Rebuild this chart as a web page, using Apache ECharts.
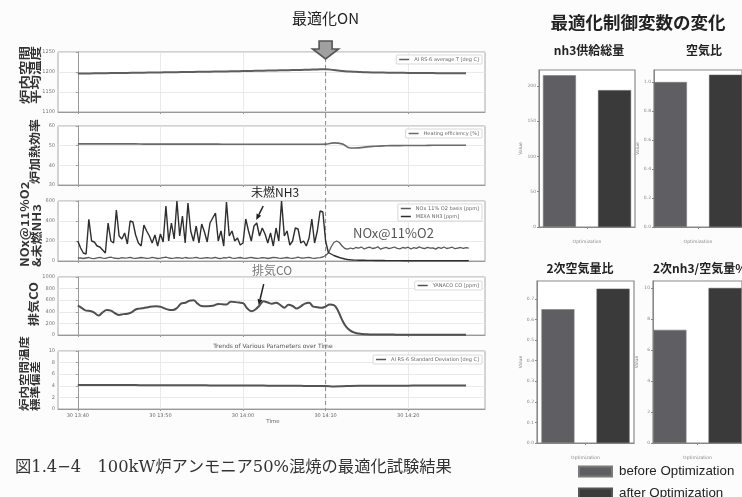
<!DOCTYPE html>
<html><head><meta charset="utf-8">
<script src="https://cdn.jsdelivr.net/npm/echarts@6/dist/echarts.min.js"></script>
<style>html,body{margin:0;padding:0;background:#fcfcfc}#c{width:742px;height:497px}</style>
</head><body><div id="c"></div><script>
// ---- time axis (minutes after 13:40) ----
const tickMinutes = [0, 10, 20, 30, 40];
const tickLabels = ['30 13:40', '30 13:50', '30 14:00', '30 14:10', '30 14:20'];
const optimizationOnMin = 30;

// 1-minute samples, 13:40 .. 14:27
const avgTemp = [1196,1196.3,1196.6,1196.9,1197.2,1197.5,1197.8,1198.1,1198.4,1198.7,
  1199,1199.3,1199.6,1199.9,1200.2,1200.5,1200.8,1201.1,1201.5,1201.9,
  1202.3,1202.7,1203.1,1203.5,1203.9,1204.3,1204.8,1205.3,1205.8,1206.3,
  1206.8,1205,1202.6,1201.2,1200.2,1199.4,1198.9,1198.5,1198.2,1198,
  1197.8,1197.6,1197.4,1197.2,1197,1196.9,1196.8,1196.7];
const heatEff = [50.9,50.9,50.9,50.9,50.9,50.9,50.9,50.9,50.8,50.8,
  50.8,50.8,50.8,50.8,50.8,50.8,50.8,50.8,50.7,50.7,
  50.7,50.7,50.7,50.7,50.7,50.7,50.7,50.7,50.7,50.7,
  50.8,51.4,50.9,48.8,48.9,49.4,49.7,49.9,50,50,
  50.1,50.1,50.1,50.2,50.2,50.2,50.2,50.2];
const tempStd = [4.15,4.15,4.14,4.14,4.13,4.13,4.12,4.12,4.11,4.11,
  4.1,4.1,4.09,4.09,4.08,4.08,4.07,4.07,4.06,4.06,
  4.05,4.05,4.04,4.03,4.02,4.01,4,3.99,3.98,3.98,
  3.98,3.9,3.92,3.97,4,4.01,4.02,4.02,4.03,4.03,
  4.03,4.04,4.04,4.04,4.05,4.05,4.05,4.05];

// 20-second samples, 13:40:00 .. 14:27:20
const nh3 = [200,130,80,70,417,200,190,150,140,110,
  80,380,200,180,510,250,220,280,170,400,
  390,260,180,150,360,300,250,180,260,150,
  270,190,550,200,380,220,600,250,450,180,
  580,300,200,350,180,370,290,190,380,430,
  480,200,300,150,590,250,300,200,230,160,
  180,420,300,200,350,380,250,330,270,180,
  280,150,330,200,600,250,300,160,200,330,
  320,180,200,150,230,420,180,300,500,490,
  200,
  85,70,55,45,35,27,20,15,12,10,
  9,8,7,7,6,6,6,5,5,5,
  5,4,4,4,4,4,4,3,3,3,
  3,3,3,3,3,3,3,3,3,3,
  3,3,3,3,3,3,3,3,3,3,
  3,3];
const nox = [28,32,25,30,35,27,24,31,36,29,
  26,33,38,30,27,25,34,29,31,37,
  28,26,30,35,32,27,29,36,31,25,
  28,33,38,30,26,29,34,31,27,35,
  30,28,32,37,29,26,31,34,28,30,
  36,27,25,33,30,38,29,27,31,35,
  28,26,32,36,30,27,29,34,31,25,
  30,37,33,28,26,31,35,29,27,32,
  38,30,28,33,36,29,27,31,34,40,
  55,
  80,140,185,200,185,150,125,118,130,122,
  135,128,140,120,132,138,125,130,142,118,
  128,136,124,131,140,127,122,135,129,138,
  120,133,126,141,130,124,137,128,132,119,
  136,127,140,125,131,138,123,129,135,126,
  133,128];

// 30-second samples, 13:40 .. 14:27
const co = [505,465,420,415,385,335,390,430,420,375,
  345,360,365,390,440,455,465,480,490,495,
  488,460,435,430,465,540,555,590,600,540,
  500,497,500,510,535,530,525,575,568,560,
  550,460,410,440,510,580,560,540,555,520,
  470,520,500,455,495,540,555,490,480,470,
  490,525,515,420,260,140,75,40,25,17,
  12,10,9,8,8,7,7,6,6,6,
  6,5,5,5,5,5,5,5,5,5,
  5,5,5,5,5];

// ---- control variables, before / after ----
const barTitles = ['nh3供給総量', '空気比', '2次空気量比', '2次nh3/空気量%'];
const beforeVals = [215, 1.0, 0.65, 7.3];
const afterVals = [194, 1.05, 0.75, 10.0];
const barAxisMax = [222.5, 1.083, 0.7875, 10.45];
const barAxisStep = [50, 0.2, 0.1, 2];

const seriesNames = ['AI RS-6 average T [deg C]', 'Heating efficiency [%]',
  'NOx 11% O2 basis [ppm]', 'MEXA NH3 [ppm]', 'YANACO CO [ppm]',
  'AI RS-6 Standard Deviation [deg C]'];

const JP = "'Noto Sans CJK JP', sans-serif";
const LAT = "'DejaVu Sans', sans-serif";

const leftLayout = [
  {top: 52, height: 60}, {top: 126, height: 59}, {top: 201, height: 60},
  {top: 277, height: 58}, {top: 351, height: 58}];
const yRanges = [
  {min: 1100, max: 1250, interval: 50}, {min: 30, max: 60, interval: 10},
  {min: 0, max: 600, interval: 200}, {min: 0, max: 1000, interval: 200},
  {min: 0, max: 10, interval: 2}];
const barLayout = [
  {left: 539, top: 70, width: 96, height: 157}, {left: 654, top: 70, width: 96, height: 157},
  {left: 537, top: 281, width: 97, height: 162}, {left: 653, top: 281, width: 97, height: 162}];

const grids = [], xAxes = [], yAxes = [], series = [], legends = [];

leftLayout.forEach((g, i) => {
  grids.push({left: 58, width: 427, top: g.top, height: g.height, show: true,
    borderColor: '#a8a8a8', borderWidth: 1, backgroundColor: '#fff'});
  xAxes.push({type: 'value', gridIndex: i, min: -2.4, max: 49.3,
    axisLine: {show: true, lineStyle: {color: '#999'}},
    axisTick: {show: true, length: 2, customValues: tickMinutes, lineStyle: {color: '#999'}},
    axisLabel: {show: i === 4, customValues: tickMinutes, fontSize: 5, color: '#666', margin: 4,
      fontFamily: LAT, formatter: v => tickLabels[tickMinutes.indexOf(v)] || ''},
    splitLine: {show: true, lineStyle: {color: '#e4e4e4', width: 0.8}}});
  yAxes.push(Object.assign({type: 'value', gridIndex: i,
    axisLine: {show: true, lineStyle: {color: '#999'}},
    axisTick: {show: true, length: 2, lineStyle: {color: '#999'}},
    axisLabel: {fontSize: 5, color: '#777', margin: 3, fontFamily: LAT, formatter: v => String(v)},
    splitLine: {show: true, lineStyle: {color: '#e4e4e4', width: 0.8}}}, yRanges[i]));
});

const perMinute = arr => arr.map((v, i) => [i, v]);
const per20s = arr => arr.map((v, i) => [i / 3, v]);
const per30s = arr => arr.map((v, i) => [i / 2, v]);

function lineSeries(name, idx, data, color, width, smooth) {
  return {type: 'line', name, xAxisIndex: idx, yAxisIndex: idx, data, showSymbol: false,
    smooth: smooth || false, lineStyle: {color, width}, itemStyle: {color}, animation: false};
}
series.push(lineSeries(seriesNames[0], 0, perMinute(avgTemp), '#5e5e5e', 2, true));
series.push(lineSeries(seriesNames[1], 1, perMinute(heatEff), '#6a6a6a', 1.6, true));
series.push(lineSeries(seriesNames[2], 2, per20s(nox), '#5a5a5a', 1.3));
series.push(lineSeries(seriesNames[3], 2, per20s(nh3), '#2e2e2e', 1.4));
series.push(lineSeries(seriesNames[4], 3, per30s(co), '#505050', 2, 0.4));
series.push(lineSeries(seriesNames[5], 4, perMinute(tempStd), '#555', 2, true));

// per-panel legends
const legendTops = [55, 129, 204, 281, 355];
const legendSets = [[seriesNames[0]], [seriesNames[1]], [seriesNames[2], seriesNames[3]],
  [seriesNames[4]], [seriesNames[5]]];
legendSets.forEach((names, i) => {
  legends.push({data: names, right: 260, top: legendTops[i], orient: 'vertical',
    icon: 'rect', itemWidth: 10, itemHeight: 1.5, itemGap: 3,
    padding: [2, 3, 2, 3], borderColor: '#cfcfcf', borderWidth: 0.8, borderRadius: 1,
    backgroundColor: '#fff', selectedMode: false,
    textStyle: {fontSize: 5, color: '#666', fontFamily: LAT}});
});

// bar panels
barLayout.forEach((b, k) => {
  const gi = 5 + k;
  grids.push(Object.assign({show: true, borderColor: '#8a8a8a', borderWidth: 1.2,
    backgroundColor: '#fff'}, b));
  xAxes.push({type: 'category', gridIndex: gi, data: [''],
    name: 'Optimization', nameLocation: 'middle', nameGap: 12,
    nameTextStyle: {fontSize: 4.5, color: '#888', fontFamily: LAT},
    axisLine: {show: true, lineStyle: {color: '#888'}},
    axisTick: {show: true, alignWithLabel: true, length: 2, lineStyle: {color: '#888'}},
    axisLabel: {show: false}, splitLine: {show: false}});
  yAxes.push({type: 'value', gridIndex: gi, min: 0, max: barAxisMax[k], interval: barAxisStep[k],
    name: 'Value', nameLocation: 'middle', nameRotate: 90, nameGap: 14,
    nameTextStyle: {fontSize: 4.5, color: '#888', fontFamily: LAT},
    axisLine: {show: true, lineStyle: {color: '#888'}},
    axisTick: {show: true, length: 2, lineStyle: {color: '#888'}},
    axisLabel: {fontSize: 4.5, color: '#888', margin: 3, showMaxLabel: false, fontFamily: LAT,
      formatter: v => barAxisStep[k] < 1 ? v.toFixed(1) : String(v)},
    splitLine: {show: false}});
  series.push({type: 'bar', name: 'before Optimization', xAxisIndex: gi, yAxisIndex: gi,
    data: [beforeVals[k]], barWidth: 33, barGap: '67%', animation: false,
    itemStyle: {color: '#5f5f63', borderColor: '#7a7a7a', borderWidth: 0.6}});
  series.push({type: 'bar', name: 'after Optimization', xAxisIndex: gi, yAxisIndex: gi,
    data: [afterVals[k]], barWidth: 33, barGap: '67%', animation: false,
    itemStyle: {color: '#3a3a3a', borderColor: '#555', borderWidth: 0.6}});
});

['before Optimization', 'after Optimization'].forEach((name, j) => {
  legends.push({data: [name], left: 578, top: 465 + j * 22, padding: 0,
    icon: 'rect', itemWidth: 33, itemHeight: 10, selectedMode: false,
    textStyle: {fontSize: 13.3, color: '#222', fontFamily: "'Liberation Sans', sans-serif",
      padding: [0, 0, 0, 2]}});
});

const chart = echarts.init(document.getElementById('c'));
chart.setOption({backgroundColor: '#fcfcfc', animation: false,
  grid: grids, xAxis: xAxes, yAxis: yAxes, series, legend: legends});

// ---- annotations ----
const px = (idx, t, v) => chart.convertToPixel({xAxisIndex: idx, yAxisIndex: idx}, [t, v]);
const onX = px(0, optimizationOnMin, 1250)[0];

function arrow(x1, y1, x2, y2, color, w) {
  const a = Math.atan2(y2 - y1, x2 - x1), L = 6, H = 2.6;
  const bx = x2 - L * Math.cos(a), by = y2 - L * Math.sin(a);
  return [
    {type: 'line', shape: {x1, y1, x2: bx, y2: by}, style: {stroke: color, lineWidth: w}},
    {type: 'polygon', shape: {points: [[x2, y2],
      [bx + H * Math.sin(a), by - H * Math.cos(a)], [bx - H * Math.sin(a), by + H * Math.cos(a)]]},
      style: {fill: color}}];
}
// vertical axis caption, read bottom-to-top, anchored at its lower end
function vtext(text, x, yBottom, size, lh, squeeze) {
  return {type: 'text', x, y: yBottom, rotation: Math.PI / 2, scaleY: squeeze || 1,
    style: {text, fontSize: size, lineHeight: lh, fontFamily: JP, fontWeight: 'bold',
      fill: '#333', align: 'left', verticalAlign: 'middle'}};
}

const nh3Tip = px(2, 21.6, 410);
const coTip = px(3, 21.9, 515);

const g = [
  {type: 'line', shape: {x1: onX, y1: 58, x2: onX, y2: 409},
    style: {stroke: '#8a8a8a', lineWidth: 1, lineDash: [4, 3]}},
  {type: 'polygon', shape: {points: [[onX - 6.5, 41], [onX + 6.5, 41], [onX + 6.5, 49],
    [onX + 13, 49], [onX, 59], [onX - 13, 49], [onX - 6.5, 49]]},
    style: {fill: '#a0a0a0', stroke: '#555', lineWidth: 1.6}},
  {type: 'text', x: onX, y: 18, style: {text: '最適化ON', fontSize: 15, fontFamily: JP,
    fill: '#222', align: 'center', verticalAlign: 'middle'}},
  {type: 'text', x: 638, y: 22, style: {text: '最適化制御変数の変化', fontSize: 17.5, fontFamily: JP,
    fontWeight: 'bold', fill: '#222', align: 'center', verticalAlign: 'middle'}},
  {type: 'text', x: 589, y: 50, style: {text: barTitles[0], fontSize: 12, fontFamily: JP,
    fontWeight: 'bold', fill: '#222', align: 'center', verticalAlign: 'middle'}},
  {type: 'text', x: 704, y: 50, style: {text: barTitles[1], fontSize: 12, fontFamily: JP,
    fontWeight: 'bold', fill: '#222', align: 'center', verticalAlign: 'middle'}},
  {type: 'text', x: 580, y: 268, style: {text: barTitles[2], fontSize: 12, fontFamily: JP,
    fontWeight: 'bold', fill: '#222', align: 'center', verticalAlign: 'middle'}},
  {type: 'text', x: 653, y: 268, style: {text: barTitles[3], fontSize: 12, fontFamily: JP,
    fontWeight: 'bold', fill: '#222', align: 'left', verticalAlign: 'middle'}},
  vtext('炉内空間\n平均温度', 30, 104, 14.5, 15, 0.75),
  vtext('炉加熱効率', 35, 184, 13, 14, 0.9),
  vtext('NOx@11%O2\n&未燃NH3', 31, 267, 13, 14, 0.85),
  vtext('排気CO', 34, 326, 13, 14, 0.9),
  vtext('炉内空間温度\n標準偏差', 30, 411, 12.5, 14, 0.8),
  {type: 'text', x: 275, y: 192, style: {text: '未燃NH3', fontSize: 12, fontFamily: JP,
    fill: '#222', align: 'center', verticalAlign: 'middle'}},
  ...arrow(nh3Tip[0] + 7, nh3Tip[1] - 14, nh3Tip[0], nh3Tip[1], '#222', 1.5),
  {type: 'text', x: 353, y: 233, style: {text: 'NOx@11%O2', fontSize: 13, fontFamily: JP,
    fill: '#555', align: 'left', verticalAlign: 'middle'}},
  {type: 'text', x: 272, y: 270, style: {text: '排気CO', fontSize: 12, fontFamily: JP,
    fill: '#777', align: 'center', verticalAlign: 'middle'}},
  ...arrow(coTip[0] + 5, coTip[1] - 21, coTip[0], coTip[1], '#222', 1.5),
  {type: 'text', x: 273, y: 346, style: {text: 'Trends of Various Parameters over Time',
    fontSize: 6, fontFamily: LAT, fill: '#555', align: 'center', verticalAlign: 'middle'}},
  {type: 'text', x: 273, y: 422, style: {text: 'Time', fontSize: 5.5, fontFamily: LAT,
    fill: '#666', align: 'center', verticalAlign: 'middle'}},
  {type: 'text', x: 15, y: 468, style: {text: '図1.4−4　100kW炉アンモニア50%混焼の最適化試験結果',
    fontSize: 16.3, fontFamily: "'DejaVu Serif', 'Noto Sans CJK JP', serif", fill: '#333',
    align: 'left', verticalAlign: 'middle'}}
];
chart.setOption({graphic: g});
</script></body></html>
